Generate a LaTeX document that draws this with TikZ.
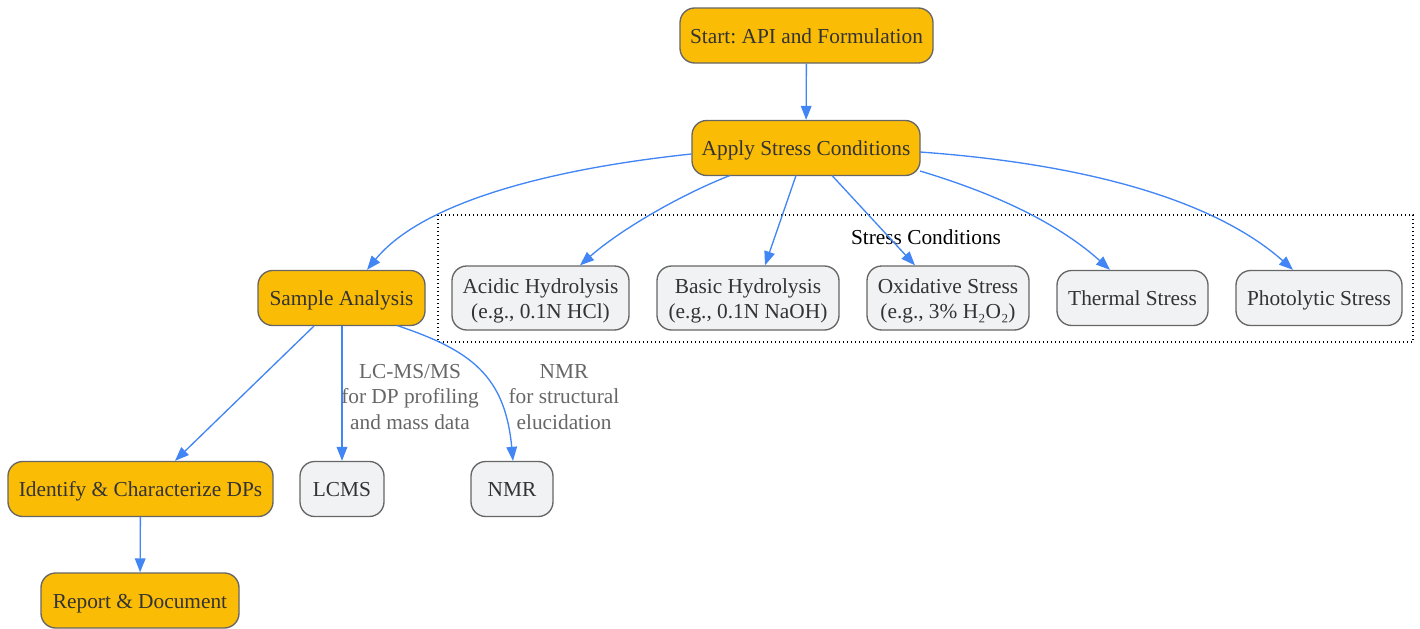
\documentclass[tikz,border=0pt]{standalone}
\usepackage{fontspec}
\setmainfont{Liberation Serif}
\usetikzlibrary{arrows.meta}
\frenchspacing
\newcommand{\tpst}{\rule{0pt}{16pt}}
\newcommand{\tpsttwo}{\rule{0pt}{34.75pt}}
\newcommand{\btst}{\rule[-4.3pt]{0pt}{0pt}}
\definecolor{ynode}{HTML}{FBBC05}
\definecolor{gnode}{HTML}{F1F2F4}
\definecolor{bord}{HTML}{666666}
\definecolor{arr}{HTML}{4285F4}
\definecolor{txt}{HTML}{333333}
\definecolor{labc}{HTML}{666666}
\tikzset{
  base/.style={draw=bord, line width=1pt, rounded corners=11pt, align=center,
    inner sep=0pt, text=txt, font=\fontsize{16}{18.75}\selectfont,
    execute at begin node=\tpst, execute at end node=\btst},
  ybox/.style={base, fill=ynode, minimum height=55*0.75pt},
  gbox/.style={base, fill=gnode, minimum height=55*0.75pt},
  gbox2/.style={base, fill=gnode, minimum height=64*0.75pt,
    execute at begin node=\tpsttwo},
  conn/.style={draw=arr, line width=1pt, -{Triangle[length=10.5pt,width=8pt]}},
  elab/.style={text=labc, align=center, font=\fontsize{16}{19.1}\selectfont},
  clus/.style={draw=black, line width=1pt, dotted},
}
\begin{document}
\begin{tikzpicture}[x=0.75pt,y=-0.75pt]
\useasboundingbox (0,0) rectangle (1420,628);
% cluster
\draw[clus] (438,215) rectangle (1413,342);
\node[font=\fontsize{16}{18.75}\selectfont, text=black] (clab) at (926,237) {Stress Conditions};
% nodes
\node[ybox, minimum width=253*0.75pt] (start) at (806.5,35.5) {Start: API and Formulation};
\node[ybox, minimum width=228*0.75pt] (apply) at (806,148) {Apply Stress Conditions};
\node[ybox, minimum width=167*0.75pt] (sample) at (341.5,298) {Sample Analysis};
\node[ybox, minimum width=265*0.75pt] (ident) at (140.5,489) {Identify \& Characterize DPs};
\node[ybox, minimum width=198*0.75pt] (report) at (140,600.5) {Report \& Document};
\node[gbox, minimum width=84*0.75pt] (lcms) at (342,489) {LCMS};
\node[gbox, minimum width=82*0.75pt] (nmr) at (512,489) {NMR};
\node[gbox2, minimum width=177*0.75pt] (acid) at (540.5,298) {Acidic Hydrolysis\\(e.g., 0.1N HCl)};
\node[gbox2, minimum width=182*0.75pt] (basic) at (748,298) {Basic Hydrolysis\\(e.g., 0.1N NaOH)};
\node[gbox2, minimum width=162*0.75pt] (oxid) at (948,298) {Oxidative Stress\\(e.g., 3\% H₂O₂)};
\node[gbox, minimum width=151*0.75pt] (therm) at (1132.5,298) {Thermal Stress};
\node[gbox, minimum width=166*0.75pt] (photo) at (1319,298) {Photolytic Stress};
% connectors
\draw[conn] (start) -- (apply);
\draw[conn] (apply.west|-0,154) .. controls (540,170) and (420,205) .. (sample.north-|367,0);
\draw[conn] (730,175.5) .. controls (680,195) and (620,230) .. (acid.north-|580,0);
\draw[conn] (796,175.5) -- (basic.north-|765,0);
\draw[conn] (832,175.5) -- (oxid.north-|915,0);
\draw[conn] (920,171) .. controls (1000,195) and (1060,225) .. (therm.north-|1110,0);
\draw[conn] (920,152) .. controls (1100,165) and (1220,205) .. (photo.north-|1293,0);
\draw[conn] (314,326) -- (ident.north-|175,0);
\draw[conn] (sample.south-|342,0) -- (lcms);
\draw[conn] (397,325.5) .. controls (470,350) and (505,375) .. (nmr.north-|513,0);
\draw[conn] (ident) -- (report);
% edge labels
\node[elab] (l1) at (410,397) {LC-MS/MS\\for DP profiling\\and mass data};
\node[elab] (l2) at (564,397) {NMR\\for structural\\elucidation};
\end{tikzpicture}
\end{document}
